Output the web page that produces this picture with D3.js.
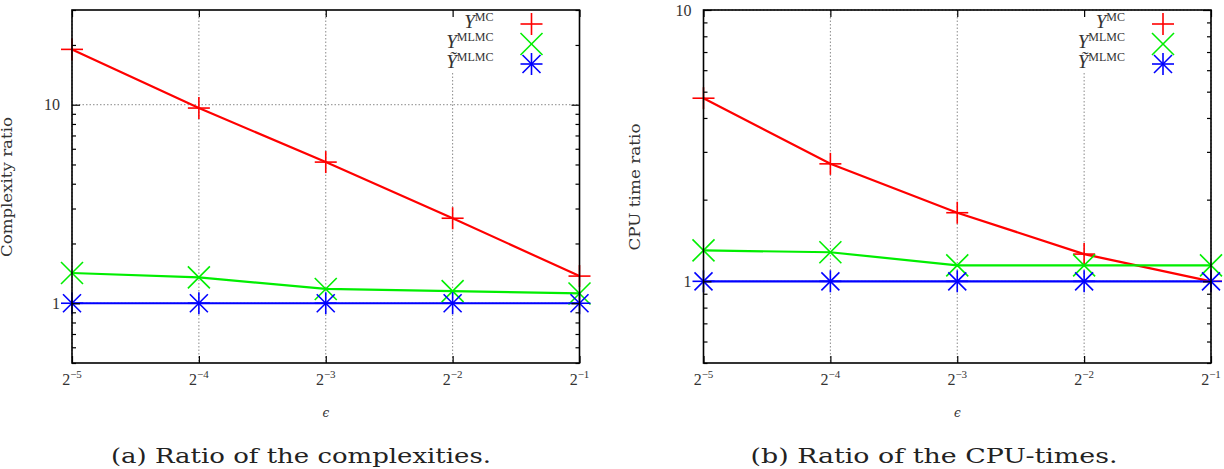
<!DOCTYPE html>
<html><head><meta charset="utf-8">
<script src="https://cdn.jsdelivr.net/npm/d3@7"></script>
<style>body{margin:0;background:#fff}svg{display:block}</style>
</head><body>
<svg id="c" width="1224" height="469"></svg>
<script>
// ---------- data ----------
const epsilonValues = [0.03125, 0.0625, 0.125, 0.25, 0.5];
const epsilonTickExponents = ["\u22125", "\u22124", "\u22123", "\u22122", "\u22121"];
const seriesBase = ["Y", "Y", "\u1EF8"];
const seriesSup = ["MC", "MLMC", "MLMC"];

const complexityMC = [19.0, 9.62, 5.14, 2.68, 1.37];
const complexityMLMC = [1.42, 1.35, 1.18, 1.15, 1.12];
const complexityMLMCtilde = [1.0, 1.0, 1.0, 1.0, 1.0];

const cpuMC = [4.73, 2.71, 1.79, 1.26, 1.0];
const cpuMLMC = [1.30, 1.28, 1.145, 1.145, 1.145];
const cpuMLMCtilde = [1.0, 1.0, 1.0, 1.0, 1.0];

const yMajorTicks = [1, 10];

// ---------- styles ----------
const colors = ["#ff0000", "#00ee00", "#0000ff"];
const markerTypes = ["plus", "cross", "star"];
const serif = "'Liberation Serif', 'DejaVu Serif', serif";
const wideSerif = "'DejaVu Serif', serif";

const svg = d3.select("#c");

function marker(g, type, cx, cy, color) {
  const h = 11;
  const segs = [];
  if (type === "plus" || type === "star") { segs.push([-h, 0, h, 0], [0, -h, 0, h]); }
  if (type === "cross" || type === "star") { const d = type === "star" ? 9 : 11; segs.push([-d, -d, d, d], [-d, d, d, -d]); }
  segs.forEach(s => g.append("line")
    .attr("x1", cx + s[0]).attr("y1", cy + s[1]).attr("x2", cx + s[2]).attr("y2", cy + s[3])
    .attr("stroke", color).attr("stroke-width", 1.6));
}

function panel(cfg) {
  const { left, right, top, bottom } = cfg;
  const g = svg.append("g");
  const x = d3.scaleLog().base(2).domain([epsilonValues[0], epsilonValues[epsilonValues.length - 1]]).range([left, right]);
  const y = d3.scaleLog().domain(cfg.yDomain).range([bottom, top]);
  const yAll = y.ticks().filter(v => v >= cfg.yDomain[0] && v <= cfg.yDomain[1]);
  const yMinor = yAll.filter(v => !yMajorTicks.some(m => Math.abs(m - v) < 1e-9));

  // grid
  const grid = g.append("g").attr("stroke", "#8a8a8a").attr("stroke-width", 1).attr("stroke-dasharray", "1.5,2");
  epsilonValues.forEach(v => grid.append("line").attr("x1", x(v)).attr("x2", x(v)).attr("y1", top).attr("y2", bottom));
  yMajorTicks.forEach(v => grid.append("line").attr("x1", left).attr("x2", right).attr("y1", y(v)).attr("y2", y(v)));

  // legend background
  g.append("rect").attr("x", right - 155).attr("y", top + 1).attr("width", 154).attr("height", 62).attr("fill", "#fff");

  // series
  const line = d3.line().x((d, i) => x(epsilonValues[i])).y(d => y(d));
  cfg.series.forEach((s, k) => {
    g.append("path").datum(s).attr("d", line).attr("fill", "none").attr("stroke", colors[k]).attr("stroke-width", 2.2);
  });
  cfg.series.forEach((s, k) => {
    s.forEach((v, i) => marker(g, markerTypes[k], x(epsilonValues[i]), y(v), colors[k]));
  });

  // axes (ticks inward, mirrored)
  const ax = g.append("g");
  ax.append("g").attr("transform", `translate(${left},0)`).call(d3.axisLeft(y).tickValues(yMajorTicks).tickSize(-8).tickPadding(12).tickFormat(d3.format("d")));
  ax.append("g").attr("transform", `translate(${left},0)`).call(d3.axisLeft(y).tickValues(yMinor).tickSize(-4).tickFormat(""));
  ax.append("g").attr("transform", `translate(${right},0)`).call(d3.axisRight(y).tickValues(yMajorTicks).tickSize(-8).tickFormat(""));
  ax.append("g").attr("transform", `translate(${right},0)`).call(d3.axisRight(y).tickValues(yMinor).tickSize(-4).tickFormat(""));
  ax.append("g").attr("transform", `translate(0,${bottom})`).call(d3.axisBottom(x).tickValues(epsilonValues).tickSize(-7).tickFormat(""));
  ax.append("g").attr("transform", `translate(0,${top})`).call(d3.axisTop(x).tickValues(epsilonValues).tickSize(-7).tickFormat(""));
  ax.selectAll(".domain").remove();
  ax.selectAll(".tick line").attr("stroke", "#000").attr("stroke-width", 1.2);
  ax.selectAll("text").attr("font-family", serif).attr("font-size", 16).attr("fill", "#333");

  // border
  g.append("rect").attr("x", left).attr("y", top).attr("width", right - left).attr("height", bottom - top)
    .attr("fill", "none").attr("stroke", "#000").attr("stroke-width", 1.6);

  // x tick labels 2^{-k}
  epsilonValues.forEach((v, i) => {
    const t = g.append("text").attr("x", x(v)).attr("y", bottom + 22).attr("text-anchor", "middle")
      .attr("font-family", serif).attr("fill", "#333");
    t.append("tspan").attr("font-size", 16).text("2");
    t.append("tspan").attr("font-size", 11).attr("dy", -7).text(epsilonTickExponents[i]);
  });

  // x title
  g.append("text").attr("x", (left + right) / 2).attr("y", bottom + 54).attr("text-anchor", "middle")
    .attr("font-family", wideSerif).attr("font-style", "italic").attr("font-size", 12).attr("fill", "#333").text("\u03F5");

  // y title
  g.append("text").attr("transform", `translate(${cfg.yTitleX},187) rotate(-90)`).attr("text-anchor", "middle")
    .attr("font-family", wideSerif).attr("font-size", 14).attr("fill", "#333")
    .attr("textLength", cfg.yTitleLen).attr("lengthAdjust", "spacingAndGlyphs").text(cfg.yTitle);

  // legend
  seriesBase.forEach((b, k) => {
    const ty = top + 18 + k * 20;
    const t = g.append("text").attr("x", right - 86).attr("y", ty).attr("text-anchor", "end")
      .attr("font-family", serif).attr("fill", "#333");
    t.append("tspan").attr("font-size", 19).attr("font-style", "italic").text(b);
    t.append("tspan").attr("font-size", 12).attr("dy", -7).text(seriesSup[k]);
    marker(g, markerTypes[k], right - 48, ty - 4, colors[k]);
  });

  // caption
  g.append("text").attr("x", cfg.captionX).attr("y", 463).attr("text-anchor", "middle")
    .attr("font-family", wideSerif).attr("font-size", 20).attr("fill", "#222")
    .attr("textLength", cfg.captionLen).attr("lengthAdjust", "spacingAndGlyphs").text(cfg.caption);
}

panel({ left: 72, right: 579.5, top: 10, bottom: 363, yDomain: [0.5, 30],
  series: [complexityMC, complexityMLMC, complexityMLMCtilde],
  yTitle: "Complexity ratio", yTitleX: 12, yTitleLen: 140,
  caption: "(a) Ratio of the complexities.", captionX: 301, captionLen: 380 });

panel({ left: 703.5, right: 1211, top: 10, bottom: 363, yDomain: [0.5, 10],
  series: [cpuMC, cpuMLMC, cpuMLMCtilde],
  yTitle: "CPU time ratio", yTitleX: 640, yTitleLen: 127,
  caption: "(b) Ratio of the CPU-times.", captionX: 934, captionLen: 367 });
</script>
</body></html>
